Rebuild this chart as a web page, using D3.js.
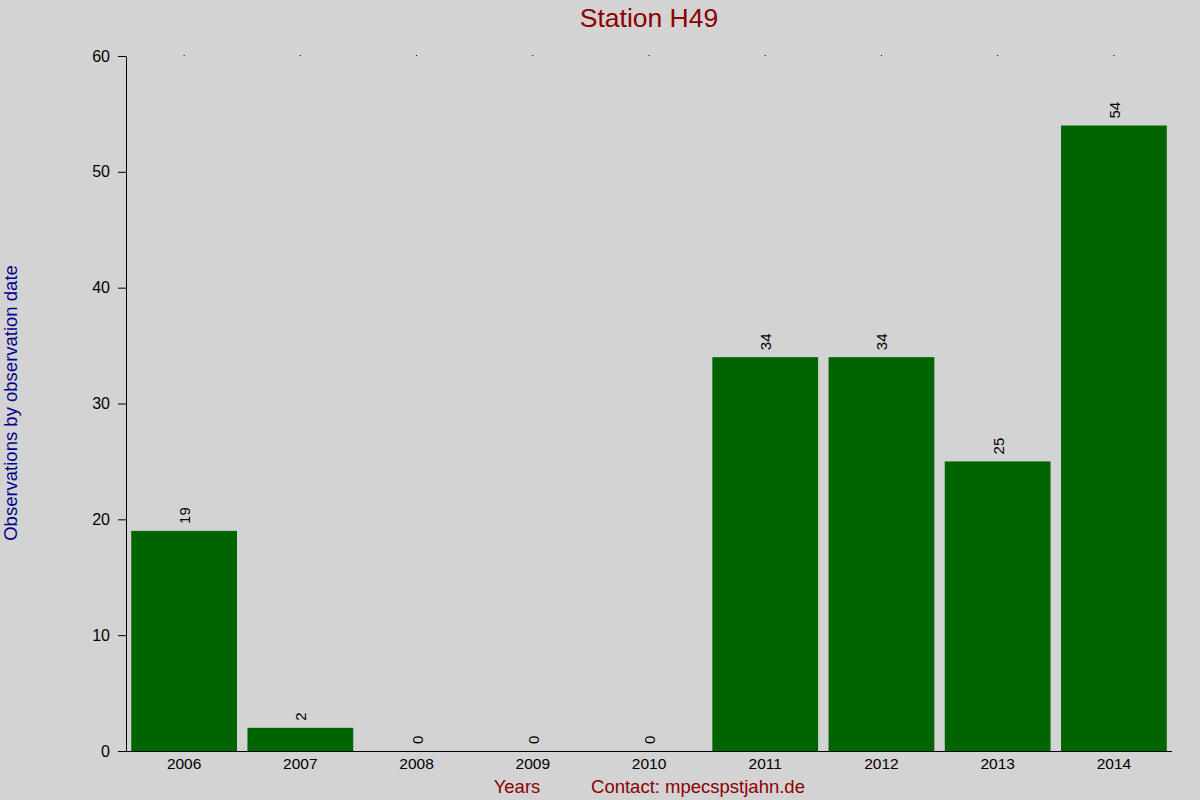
<!DOCTYPE html>
<html>
<head>
    <meta charset="utf-8">
    <title>Station H49</title>
    <script src="https://d3js.org/d3.v7.min.js"></script>
    <style>
        body { margin: 0; background: #d3d3d3; }
        text { font-family: "Liberation Sans", Arial, sans-serif; }
    </style>
</head>
<body>
    <script>
        // chart data
        var years = ["2006", "2007", "2008", "2009", "2010", "2011", "2012", "2013", "2014"];
        var counts = [19, 2, 0, 0, 0, 34, 34, 25, 54];
        var yTicks = [0, 10, 20, 30, 40, 50, 60];

        var width = 1200, height = 800;
        var margin = {top: 56, right: 28, bottom: 49, left: 126};

        var svg = d3.select("body").append("svg")
            .attr("width", width)
            .attr("height", height)
            .style("background", "#d3d3d3");

        var x = d3.scaleBand()
            .domain(years)
            .range([margin.left, width - margin.right])
            .paddingInner(0.09)
            .paddingOuter(0.045);

        var y = d3.scaleLinear()
            .domain([0, 60])
            .range([height - margin.bottom, margin.top]);

        // bars
        svg.selectAll("rect.bar")
            .data(counts)
            .enter().append("rect")
            .attr("class", "bar")
            .attr("x", function(d, i) { return x(years[i]); })
            .attr("y", function(d) { return y(d); })
            .attr("width", x.bandwidth())
            .attr("height", function(d) { return y(0) - y(d); })
            .style("fill", "#006400");

        // value labels, rotated
        svg.selectAll("text.val")
            .data(counts)
            .enter().append("text")
            .attr("class", "val")
            .attr("transform", function(d, i) {
                var cx = x(years[i]) + x.bandwidth() / 2;
                return "translate(" + (cx + 6) + "," + (y(d) - 7) + ") rotate(-90)";
            })
            .attr("text-anchor", "start")
            .style("font-size", "15px")
            .style("fill", "#000")
            .text(function(d) { return d; });

        // y axis
        var yAxis = svg.append("g")
            .attr("transform", "translate(" + margin.left + ",0)")
            .call(d3.axisLeft(y).tickValues(yTicks).tickSize(8).tickSizeOuter(0).tickPadding(8));
        yAxis.selectAll("text").style("font-size", "16px").style("fill", "#000");
        yAxis.selectAll("line,path").style("stroke", "#000");

        // x axis
        var xAxis = svg.append("g")
            .attr("transform", "translate(0," + y(0) + ")")
            .call(d3.axisBottom(x).tickSize(0).tickPadding(7));
        xAxis.select(".domain").attr("d", "M" + (margin.left - 8) + ",0.5H" + (width - margin.right));
        xAxis.selectAll("text").style("font-size", "15.5px").style("fill", "#000");
        xAxis.selectAll("path").style("stroke", "#000");

        // little dots at the top of each category
        var topAxis = svg.append("g")
            .attr("transform", "translate(0," + margin.top + ")")
            .call(d3.axisTop(x).tickSize(1).tickFormat(""));
        topAxis.select(".domain").remove();
        topAxis.selectAll("line").style("stroke", "#000");

        // title
        svg.append("text")
            .attr("x", 649)
            .attr("y", 27)
            .attr("text-anchor", "middle")
            .style("font-size", "26.5px")
            .style("fill", "#8b0000")
            .text("Station H49");

        // y label
        svg.append("text")
            .attr("transform", "translate(17," + 403 + ") rotate(-90)")
            .attr("text-anchor", "middle")
            .style("font-size", "18.5px")
            .style("fill", "#00008b")
            .text("Observations by observation date");

        // bottom labels
        svg.append("text")
            .attr("x", 517)
            .attr("y", 793)
            .attr("text-anchor", "middle")
            .style("font-size", "18.5px")
            .style("fill", "#8b0000")
            .text("Years");

        svg.append("text")
            .attr("x", 698)
            .attr("y", 793)
            .attr("text-anchor", "middle")
            .style("font-size", "18.5px")
            .style("fill", "#8b0000")
            .text("Contact: mpecspstjahn.de");
    </script>
</body>
</html>
